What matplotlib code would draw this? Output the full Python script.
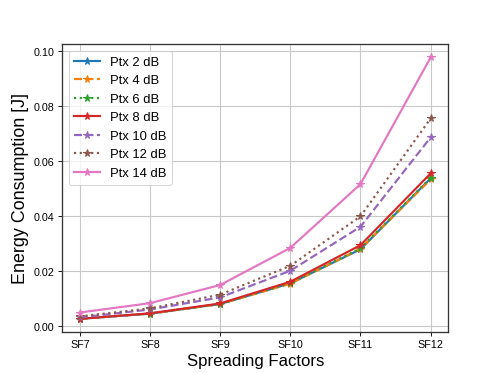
import numpy as np
import matplotlib
matplotlib.use("Agg")
import matplotlib.pyplot as plt

plt.rcParams['font.family'] = ['Liberation Sans', 'DejaVu Sans']

# spreading factors on the x axis
sf_labels = ["SF7", "SF8", "SF9", "SF10", "SF11", "SF12"]

# energy consumption [J] per transmit power
ptx_2 = [0.0027, 0.0046, 0.0081, 0.0156, 0.0280, 0.0538]
ptx_4 = [0.0027, 0.0046, 0.0081, 0.0155, 0.0282, 0.0534]
ptx_6 = [0.0027, 0.0046, 0.0081, 0.0157, 0.0283, 0.0540]
ptx_8 = [0.0027, 0.0047, 0.0083, 0.0162, 0.0295, 0.0556]
ptx_10 = [0.0032, 0.0061, 0.0105, 0.0202, 0.0362, 0.0687]
ptx_12 = [0.0036, 0.0065, 0.0115, 0.0220, 0.0400, 0.0756]
ptx_14 = [0.0050, 0.0084, 0.0150, 0.0285, 0.0517, 0.0978]

series = [ptx_2, ptx_4, ptx_6, ptx_8, ptx_10, ptx_12, ptx_14]
labels = ["Ptx 2 dB", "Ptx 4 dB", "Ptx 6 dB", "Ptx 8 dB",
          "Ptx 10 dB", "Ptx 12 dB", "Ptx 14 dB"]
styles = ["-", "--", ":", "-", "--", ":", "-"]

fig, ax = plt.subplots(figsize=(6.4, 4.8))
x = np.arange(len(sf_labels))
for vals, lab, ls in zip(series, labels, styles):
    ax.plot(x, vals, linestyle=ls, marker="*", linewidth=2, markersize=7, label=lab)

ax.set_xticks(x)
ax.set_xticklabels(sf_labels)
ax.tick_params(labelsize=10)
ax.set_xlabel("Spreading Factors", fontsize=15.5)
ax.set_ylabel("Energy Consumption [J]", fontsize=16.5)
ax.grid(True, color="#c8c8c8", linewidth=1)
for s in ax.spines.values():
    s.set_color("#333333")
    s.set_linewidth(1.2)
ax.legend(loc="upper left", fontsize=12)

fig.savefig("out.png", dpi=498 / 6.4)
